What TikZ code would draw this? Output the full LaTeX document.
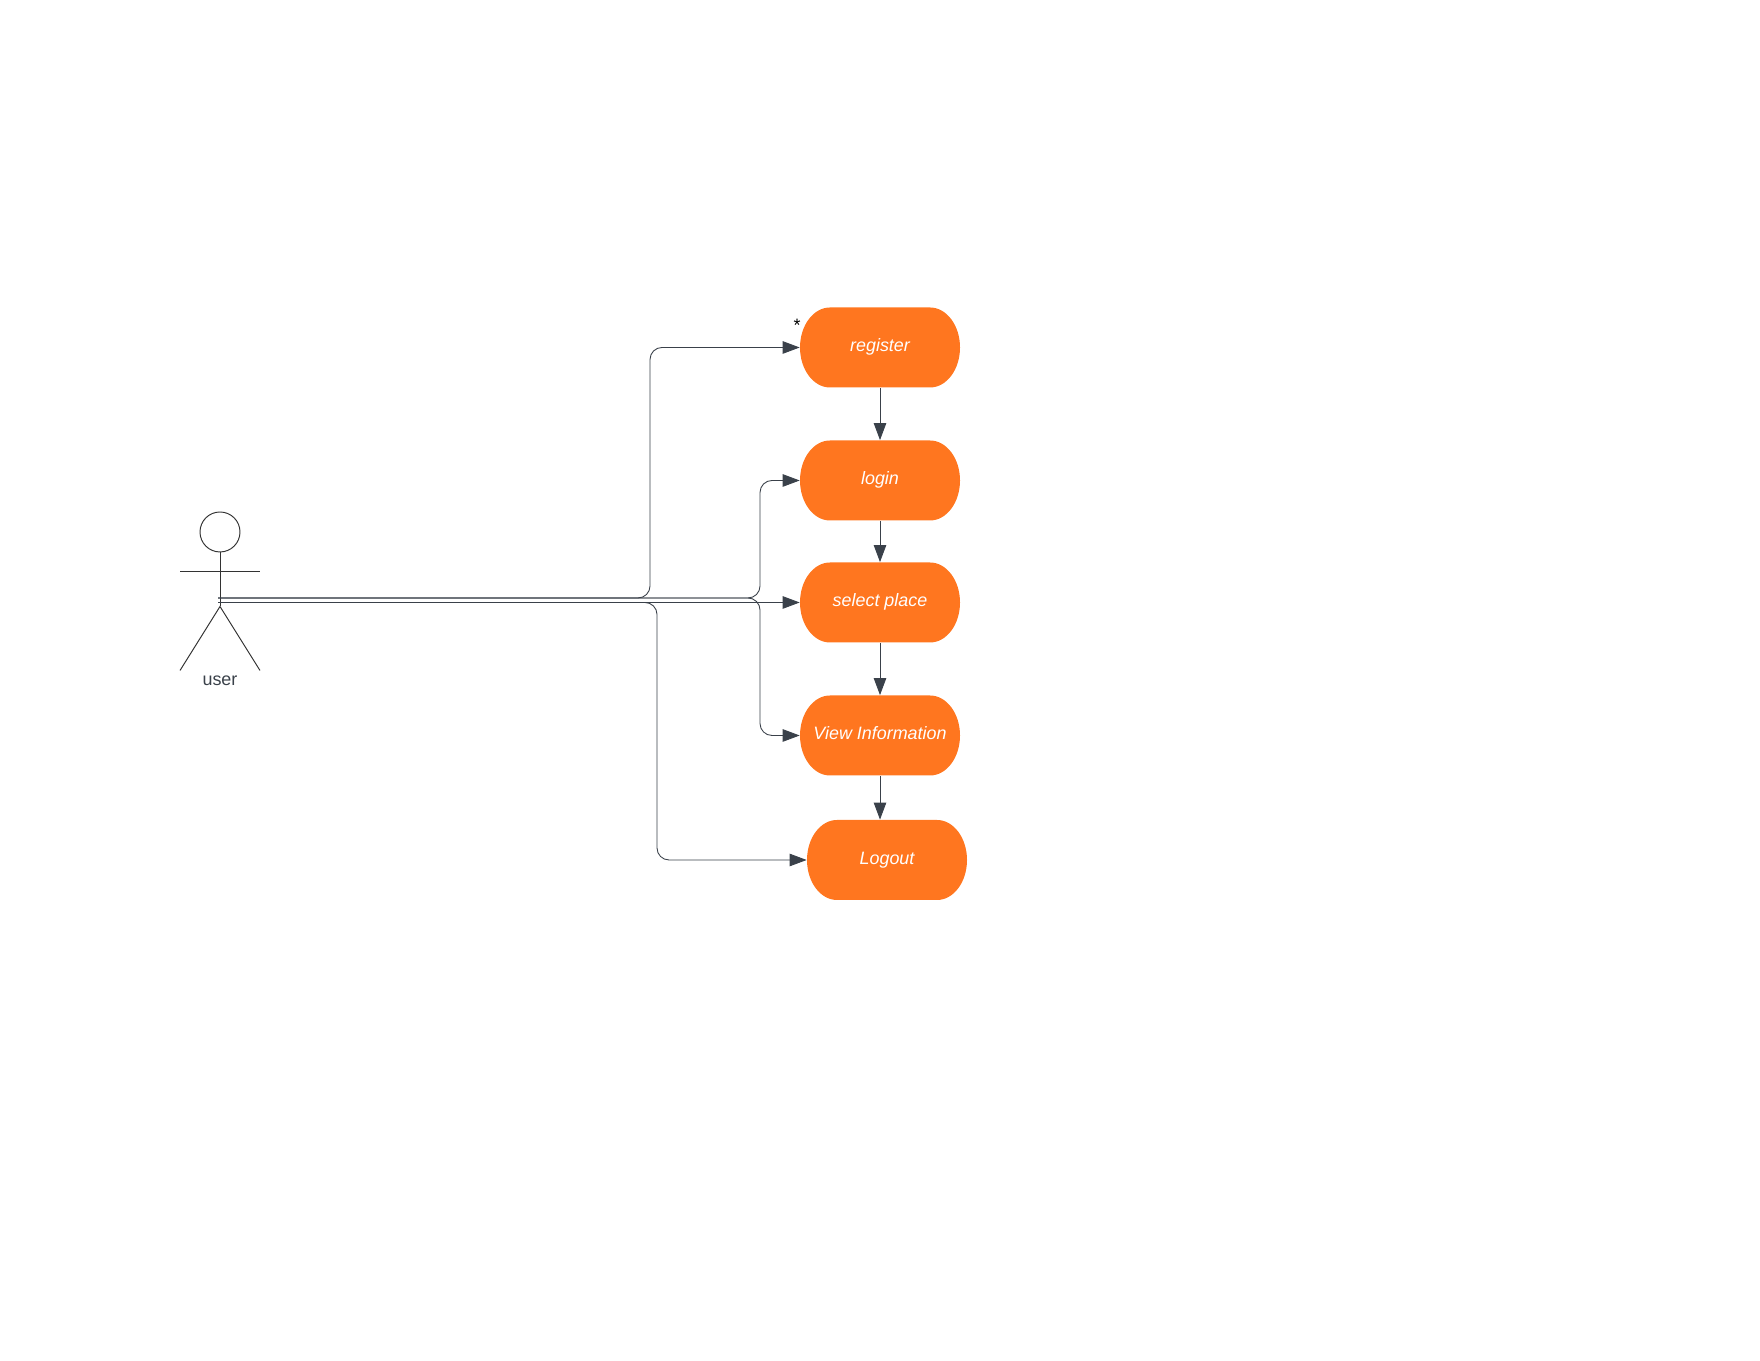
\documentclass[tikz,border=0pt]{standalone}
\usepackage{fontspec}
\setmainfont{Liberation Sans}
\usetikzlibrary{arrows.meta}
\definecolor{caseorange}{HTML}{FF761F}
\definecolor{linegray}{HTML}{3A414A}
\begin{document}
\begin{tikzpicture}
	[	casebox/.style={rectangle,minimum width=3.2cm,minimum height=1.6cm,inner sep=0pt,
		text=white,font=\fontsize{10.2}{12}\selectfont\itshape,text height=.29cm,text depth=.11cm,
		path picture={\fill[caseorange] ([xshift=.6cm]path picture bounding box.north west)
			-- ([xshift=-.6cm]path picture bounding box.north east)
			arc[start angle=90,end angle=0,x radius=.6cm,y radius=.8cm]
			arc[start angle=0,end angle=-90,x radius=.6cm,y radius=.8cm]
			-- ([xshift=.6cm]path picture bounding box.south west)
			arc[start angle=270,end angle=180,x radius=.6cm,y radius=.8cm]
			arc[start angle=180,end angle=90,x radius=.6cm,y radius=.8cm] -- cycle;}},
	flow/.style={draw=linegray,line width=.5pt,rounded corners=.24cm,
		-{Triangle[length=.34cm,width=.25cm]}},
	stick/.style={draw=black!80,line width=.55pt},
	plain/.style={draw=none,fill=none,text=linegray,font=\fontsize{10.2}{12}\selectfont}
	]
	\useasboundingbox (0,0) rectangle (35.2,27.2);

	\node[casebox] (register) at (17.6,20.25){register};
	\node[casebox] (login) at (17.6,17.59){login};
	\node[casebox] (select) at (17.6,15.15){select place};
	\node[casebox] (view) at (17.6,12.49){View Information};
	\node[casebox] (logout) at (17.74,10){Logout};
	\node[plain,text=black] (star) at (15.94,20.7){*};

	% actor
	\node[circle,stick,minimum size=.8cm,inner sep=0pt] (head) at (4.4,16.56){};
	\coordinate (armL) at (3.6,15.78);
	\coordinate (armR) at (5.2,15.78);
	\coordinate (hip) at (4.4,15.07);
	\coordinate (footL) at (3.6,13.79);
	\coordinate (footR) at (5.2,13.79);
	\draw[stick] (head.south) -- (hip);
	\draw[stick] (armL) -- (armR);
	\draw[stick] (footL) -- (hip) -- (footR);
	\node[plain] (user) at (4.4,13.58){user};

	\coordinate (startA) at (4.36,15.24);
	\coordinate (startB) at (4.36,15.15);

	\draw[flow] (startA) -| (13,17) |- (register.west);
	\draw[flow] (startA) -| (15.2,16.5) |- (login.west);
	\draw[flow] (startB) -- (select.west);
	\draw[flow] (startA) -| (15.2,14) |- (view.west);
	\draw[flow] (startB) -| (13.14,12) |- (logout.west);

	\draw[flow] (register.south) -- (login.north);
	\draw[flow] (login.south) -- (select.north);
	\draw[flow] (select.south) -- (view.north);
	\draw[flow] (view.south) -- (view.south |- logout.north);
\end{tikzpicture}
\end{document}
